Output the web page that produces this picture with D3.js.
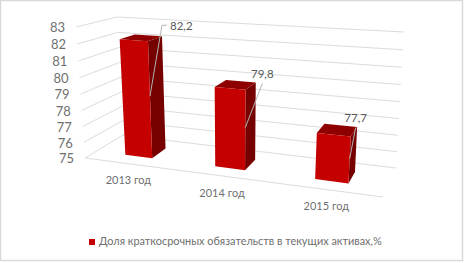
<!DOCTYPE html>
<html>
<head>
<meta charset="utf-8">
<script src="https://d3js.org/d3.v7.min.js"></script>
<style>
  html, body { margin: 0; padding: 0; background: #fff; }
  svg { display: block; }
  text { font-family: Lato, "Open Sans", sans-serif; fill: #6f6f6f; }
</style>
</head>
<body>
<div id="chart"></div>
<script>
// data
var categories = ["2013 год", "2014 год", "2015 год"];
var values = [82.2, 79.8, 77.7];
var valueLabels = ["82,2", "79,8", "77,7"];
var valueTicks = [75, 76, 77, 78, 79, 80, 81, 82, 83];
var seriesName = "Доля краткосрочных обязательств в текущих активах,%";

var width = 465, height = 263;

var svg = d3.select("#chart")
    .append("svg")
    .attr("width", width)
    .attr("height", height);

// frame of the chart area
svg.append("rect")
    .attr("x", 0.5).attr("y", 0.5)
    .attr("width", width - 3).attr("height", height - 3)
    .attr("fill", "#fff")
    .attr("stroke", "#d9d9d9")
    .attr("stroke-width", 1.5);

// the 3d box corners on screen (front/back, left/right, floor/ceiling)
var box = {
    fl0: [85, 158], fr0: [383, 197], bl0: [123, 135], br0: [396, 168],
    fl1: [76, 27], fr1: [393, 47], bl1: [117, 17], br1: [404, 32]
};

// perspective squeeze along an axis, t goes 0..1
function squeeze(t, k) { return t / (t + k * (1 - t)); }

var x = d3.scaleBand()
    .domain(categories)
    .range([0, 1])
    .paddingInner(0.69)
    .paddingOuter(0.345);
var y = d3.scaleLinear()
    .domain([75, 83])
    .range([0, 1]);
var depth = d3.scaleLinear()
    .domain([0, 1])
    .range([0.3, 0.7]); // bar sits in the middle of the floor depth

// category position, value and depth -> screen point
function project(t, v, d) {
    var u = squeeze(t, 1.174), h = squeeze(y(v), 1.05);
    function edge(a, b) { return d3.interpolate(a, b)(u); }
    var front = d3.interpolate(edge(box.fl0, box.fr0), edge(box.fl1, box.fr1))(h);
    var back = d3.interpolate(edge(box.bl0, box.br0), edge(box.bl1, box.br1))(h);
    return d3.interpolate(front, back)(d);
}

var line = d3.line();

// grid on left and back wall
svg.append("g").selectAll("path")
    .data(valueTicks)
    .enter()
    .append("path")
    .attr("d", function(d) {
        return line([project(0, d, 0), project(0, d, 1), project(1, d, 1)]);
    })
    .attr("fill", "none")
    .attr("stroke", "#dcdcdc")
    .attr("stroke-width", 1);

// front edge of floor
svg.append("path")
    .attr("d", line([project(0, 75, 0), project(1, 75, 0)]))
    .attr("fill", "none")
    .attr("stroke", "#dcdcdc")
    .attr("stroke-width", 1);

// value axis labels
svg.append("g").selectAll("text")
    .data(valueTicks)
    .enter()
    .append("text")
    .attr("x", function(d) { return project(0, d, 0)[0] - 11; })
    .attr("y", function(d) { return project(0, d, 0)[1] + 2; })
    .attr("text-anchor", "end")
    .attr("dominant-baseline", "middle")
    .style("font-size", "13px")
    .text(function(d) { return d; });

// category labels
svg.append("g").selectAll("text")
    .data(categories)
    .enter()
    .append("text")
    .attr("x", function(d) { return project(x(d) + x.bandwidth() / 2, 75, 0)[0]; })
    .attr("y", function(d) { return project(x(d) + x.bandwidth() / 2, 75, 0)[1] + 18; })
    .attr("text-anchor", "middle")
    .attr("dominant-baseline", "middle")
    .style("font-size", "11px")
    .text(function(d) { return d; });

// the bars: side, top, front
var bars = svg.append("g").selectAll("g")
    .data(categories)
    .enter()
    .append("g");

function barFace(i, pts) {
    var c = categories[i], l = x(c), r = l + x.bandwidth(), v = values[i];
    return line(pts(l, r, v)) + "Z";
}

bars.append("path")
    .attr("fill", "#760000")
    .attr("d", function(d, i) {
        return barFace(i, function(l, r, v) {
            return [project(r, 75, depth(0)), project(r, 75, depth(1)), project(r, v, depth(1)), project(r, v, depth(0))];
        });
    });
bars.append("path")
    .attr("fill", "#8e0000")
    .attr("d", function(d, i) {
        return barFace(i, function(l, r, v) {
            return [project(l, v, depth(0)), project(r, v, depth(0)), project(r, v, depth(1)), project(l, v, depth(1))];
        });
    });
bars.append("path")
    .attr("fill", "#c40000")
    .attr("d", function(d, i) {
        return barFace(i, function(l, r, v) {
            return [project(l, 75, depth(0)), project(r, 75, depth(0)), project(r, v, depth(0)), project(l, v, depth(0))];
        });
    });

// leaders start at mid height of the bar, label placed by hand like in the original
var labelShift = [[20, -70], [17, -53], [6, -40]];
var leaderBends = [[12, -71], null, null];

function leaderStart(i) {
    var c = categories[i], r = x(c) + x.bandwidth();
    var p0 = project(r, 75, depth(0)), p1 = project(r, values[i], depth(0));
    return [p0[0] + (p1[0] - p0[0]) * 0.53, p0[1] + (p1[1] - p0[1]) * 0.53];
}

bars.append("path")
    .attr("fill", "none")
    .attr("stroke", "#b3b3b3")
    .attr("stroke-width", 1)
    .attr("d", function(d, i) {
        var s = leaderStart(i), pts = [s];
        if (leaderBends[i]) {
            pts.push([s[0] + leaderBends[i][0], s[1] + leaderBends[i][1]]);
            pts.push([s[0] + labelShift[i][0] - 3, s[1] + leaderBends[i][1]]);
        } else {
            pts.push([s[0] + labelShift[i][0], s[1] + labelShift[i][1] + 9]);
        }
        return line(pts);
    });

bars.append("text")
    .attr("x", function(d, i) { return leaderStart(i)[0] + labelShift[i][0]; })
    .attr("y", function(d, i) { return leaderStart(i)[1] + labelShift[i][1] + 1; })
    .attr("text-anchor", function(d, i) { return i == 0 ? "start" : "middle"; })
    .attr("dominant-baseline", "middle")
    .style("font-size", "11.5px")
    .style("fill", "#595959")
    .text(function(d, i) { return valueLabels[i]; });

// legend
svg.append("rect")
    .attr("x", 89).attr("y", 239)
    .attr("width", 6).attr("height", 6)
    .attr("fill", "#c40000");
svg.append("text")
    .attr("transform", "translate(99,242) scale(0.975,1)")
    .attr("dominant-baseline", "middle")
    .style("font-size", "11.2px")
    .text(seriesName);
</script>
</body>
</html>
